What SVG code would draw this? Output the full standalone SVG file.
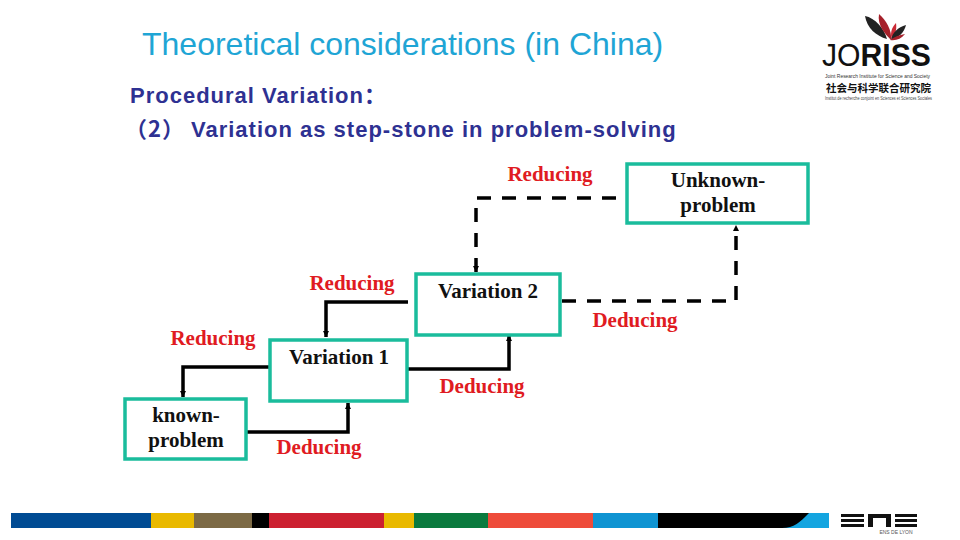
<svg xmlns="http://www.w3.org/2000/svg" width="960" height="540" viewBox="0 0 960 540">
<style>
.box{fill:#fff;stroke:#1abc9c;stroke-width:3.5}
.lb{font:bold 21px "Liberation Serif",serif;fill:#e01b22;text-anchor:middle}
.nt{font:bold 21px "Liberation Serif",serif;fill:#111;text-anchor:middle}
.w{fill:none;stroke:#000;stroke-width:3.5}
.d{fill:none;stroke:#000;stroke-width:3.5;stroke-dasharray:14 11}
.t{font:bold 22px "Liberation Sans",sans-serif;fill:#2e3192;letter-spacing:1px}
</style>
<defs>
<marker id="a" markerWidth="8" markerHeight="8" refX="6" refY="3" orient="auto" markerUnits="userSpaceOnUse"><path d="M0 0L6 3L0 6Z" fill="#000"/></marker>
</defs>
<rect width="960" height="540" fill="#fff"/>
<text x="142" y="55" font-family="Liberation Sans, sans-serif" font-size="32" fill="#1fa5d5">Theoretical considerations (in China)</text>
<text class="t" x="130" y="103">Procedural Variation<tspan font-family="Noto Sans CJK SC">：</tspan></text>
<text class="t" x="125" y="137"><tspan font-family="Noto Sans CJK SC">（2）</tspan><tspan x="191">Variation as step-stone in problem-solving</tspan></text>
<g id="connectors">
<path class="d" d="M616 198H476V272" marker-end="url(#a)"/>
<path class="d" d="M562 301H736V225" marker-end="url(#a)"/>
<path class="w" d="M408 302H326V337" marker-end="url(#a)"/>
<path class="w" d="M406 369H509V335" marker-end="url(#a)"/>
<path class="w" d="M269 367H183V397" marker-end="url(#a)"/>
<path class="w" d="M247 432H348V403" marker-end="url(#a)"/>
</g>
<g id="n-unknown"><rect class="box" x="627" y="164" width="181" height="59"/><text class="nt" x="718" y="187">Unknown-</text><text class="nt" x="718" y="212">problem</text></g>
<g id="n-v2"><rect class="box" x="416" y="274" width="144" height="61"/><text class="nt" x="488" y="298">Variation 2</text></g>
<g id="n-v1"><rect class="box" x="270" y="340" width="137" height="61"/><text class="nt" x="339" y="364">Variation 1</text></g>
<g id="n-known"><rect class="box" x="125" y="399" width="121" height="60"/><text class="nt" x="186" y="422">known-</text><text class="nt" x="186" y="447">problem</text></g>
<g id="labels">
<text class="lb" x="550" y="181">Reducing</text>
<text class="lb" x="352" y="290">Reducing</text>
<text class="lb" x="213" y="345">Reducing</text>
<text class="lb" x="635" y="327">Deducing</text>
<text class="lb" x="482" y="393">Deducing</text>
<text class="lb" x="319" y="454">Deducing</text>
</g>
<g id="footer">
<rect x="11" y="513" width="140" height="15" fill="#004b93"/>
<rect x="151" y="513" width="43" height="15" fill="#e9b900"/>
<rect x="194" y="513" width="58" height="15" fill="#7c6a45"/>
<rect x="252" y="513" width="17" height="15" fill="#000"/>
<rect x="269" y="513" width="115" height="15" fill="#cc2030"/>
<rect x="384" y="513" width="30" height="15" fill="#e9b900"/>
<rect x="414" y="513" width="74" height="15" fill="#0a7a3e"/>
<rect x="488" y="513" width="105" height="15" fill="#ee4b3a"/>
<rect x="593" y="513" width="66" height="15" fill="#0f94d2"/>
<rect x="659" y="513" width="170" height="15" fill="#14a5e0"/>
<path d="M658 513H809C800 522 794 528 782 528H658Z" fill="#000"/>
<g fill="#111"><rect x="841" y="514" width="23" height="3"/><rect x="841" y="519" width="23" height="3"/><rect x="841" y="524" width="23" height="3"/>
<path d="M868 514H891V527H886V518H873V527H868Z"/>
<rect x="895" y="514" width="22" height="3"/><rect x="895" y="519" width="22" height="3"/><rect x="895" y="524" width="22" height="3"/></g>
<text x="896" y="534" font-family="Liberation Sans, sans-serif" font-size="5" fill="#555" text-anchor="middle">ENS DE LYON</text>
</g>
<g id="logo">
<path d="M865 16C875 18 884 28 887 39C876 36 867 28 865 16Z" fill="#222"/>
<path d="M879 14C886 20 892 30 891 40C885 34 877 25 879 14Z" fill="#a5202a"/>
<path d="M896 23C897 30 895 35 892 40C890 34 891 28 896 23Z" fill="#c92a35"/>
<path d="M906 25C904 33 899 37 891 40C892 33 898 27 906 25Z" fill="#222"/>
<path d="M905 34C901 39 896 41 890 40C894 37 899 35 905 34Z" fill="#a5202a"/>
<text x="822" y="66" font-family="Liberation Sans, sans-serif" font-size="31" fill="#111" textLength="109" lengthAdjust="spacingAndGlyphs">JO<tspan font-weight="bold">RISS</tspan></text>
<text x="825" y="78" font-family="Liberation Sans, sans-serif" font-size="4.5" fill="#333" textLength="105" lengthAdjust="spacingAndGlyphs">Joint Research Institute for Science and Society</text>
<text x="826" y="92" font-family="Noto Sans CJK SC, sans-serif" font-size="10.5" font-weight="bold" fill="#111" textLength="105" lengthAdjust="spacingAndGlyphs">社会与科学联合研究院</text>
<text x="825" y="100" font-family="Liberation Sans, sans-serif" font-size="4.5" fill="#444" textLength="107" lengthAdjust="spacingAndGlyphs">Institut de recherche conjoint en Sciences et Sciences Sociales</text>
</g>
</svg>
